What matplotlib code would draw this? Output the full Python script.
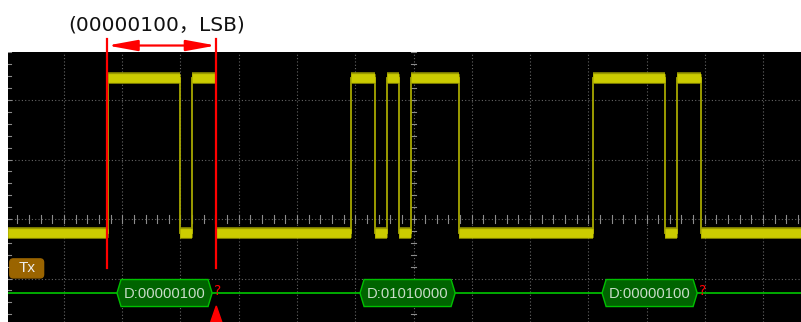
import matplotlib.pyplot as plt
from matplotlib.patches import Polygon, FancyBboxPatch

# scope screen in divisions (x: horizontal div, y: vertical div)
bit_width = 0.206
frame_starts = [-5.245, -1.073, 3.082]
frame_bits = [
    [1, 1, 1, 1, 1, 1, 0, 1, 1],
    [1, 1, 0, 1, 0, 1, 1, 1, 1],
    [1, 1, 1, 1, 1, 1, 0, 1, 1],
]
decode_labels = ["D:00000100", "D:01010000", "D:00000100"]
error_marks = ["?", "", "?"]
level_high = 2.378
level_low = -0.235
decode_row = -1.244
title_text = "(00000100，LSB)"
channel_label = "Tx"

x_min, x_max = -6.961, 6.652
y_min, y_max = -1.731, 2.807

fig = plt.figure(figsize=(8.01, 3.22), dpi=100)
fig.patch.set_facecolor("white")
ax = fig.add_axes([8 / 801, 0, 793 / 801, 270 / 322])
ax.set_facecolor("black")
ax.set_xlim(x_min, x_max)
ax.set_ylim(y_min, y_max)
ax.set_axis_off()
ax.add_patch(plt.Rectangle((x_min, y_min), x_max - x_min, y_max - y_min,
                           color="black", zorder=0))

# grid
grid_kw = dict(color="#666666", lw=0.8, ls=(0, (1, 2)), zorder=1)
for gx in range(-6, 7):
    ax.axvline(gx, **grid_kw)
for gy in range(-1, 3):
    ax.axhline(gy, **grid_kw)

# center axes with minor ticks, plus left border ticks
tick_c = "#8c8c8c"
k = -40
while k * 0.2 < x_max:
    t = k * 0.2
    if t > x_min:
        ax.plot([t, t], [-0.06, 0.06], color=tick_c, lw=0.8, zorder=2)
    k += 1
k = -10
while k * 0.2 < y_max:
    t = k * 0.2
    if t > y_min:
        ax.plot([-0.05, 0.05], [t, t], color=tick_c, lw=0.8, zorder=2)
        ax.plot([x_min, x_min + 0.05], [t, t], color=tick_c, lw=0.8, zorder=2)
    k += 1

# waveform: build step segments
segs = []
cur_t = x_min
for s, bits in zip(frame_starts, frame_bits):
    segs.append((cur_t, s, 0))
    for i, b in enumerate(bits):
        segs.append((s + i * bit_width, s + (i + 1) * bit_width, b))
    cur_t = s + len(bits) * bit_width
segs.append((cur_t, x_max, 0))

# merge equal levels
merged = []
for a, b, lv in segs:
    if merged and merged[-1][2] == lv:
        merged[-1] = (merged[-1][0], b, lv)
    else:
        merged.append((a, b, lv))

for i in range(1, len(merged)):
    tx = merged[i][0]
    ax.plot([tx, tx], [level_low, level_high], color="#a8a800", lw=1.3, zorder=3)

for a, b, lv in merged:
    y = level_high if lv else level_low
    ax.hlines(y, a, b, colors="#9a9a00", lw=8.3, capstyle="butt", zorder=4)
    ax.hlines(y, a, b, colors="#cccc00", lw=6.3, capstyle="butt", zorder=5)

# decode row
ax.axhline(decode_row, color="#00c800", lw=1.2, zorder=3)
hh = 0.227
pt = 0.07
for s, lab, mark in zip(frame_starts, decode_labels, error_marks):
    x0 = s + 0.75 * bit_width
    x1 = s + 8.68 * bit_width
    hexa = Polygon([(x0, decode_row), (x0 + pt, decode_row + hh),
                    (x1 - pt, decode_row + hh), (x1, decode_row),
                    (x1 - pt, decode_row - hh), (x0 + pt, decode_row - hh)],
                   closed=True, facecolor="#006400", edgecolor="#00c000",
                   lw=1.0, zorder=6)
    ax.add_patch(hexa)
    ax.text((x0 + x1) / 2, decode_row - 0.01, lab, color="#c8dcc8",
            fontsize=10.6, family="Liberation Sans", ha="center", va="center",
            zorder=7)
    if mark:
        ax.text(s + 9.12 * bit_width, decode_row + 0.04, mark, color="red",
                fontsize=10, ha="center", va="center", zorder=7)

# channel label
tx_box = FancyBboxPatch((-6.93, -0.99), 0.58, 0.32,
                        boxstyle="round,pad=0,rounding_size=0.06",
                        facecolor="#9a6400", edgecolor="#9a6400",
                        mutation_aspect=1.0, zorder=6)
ax.add_patch(tx_box)
ax.text(-6.64, -0.83, channel_label, color="#eeeeee", fontsize=11,
        family="Liberation Sans", ha="center", va="center", zorder=7)

# red measurement markers around frame 1
m0 = frame_starts[0] - 0.008
m1 = frame_starts[0] + 9 * bit_width
for mx in (m0, m1):
    ax.plot([mx, mx], [-0.824, 3.025], color="red", lw=1.6, zorder=8,
            clip_on=False)
ax.annotate("", xy=(m0, 2.916), xytext=(m1, 2.916),
            arrowprops=dict(arrowstyle="<|-|>,head_length=1.8,head_width=0.33",
                            color="red", lw=1.6, shrinkA=0, shrinkB=0,
                            mutation_scale=10),
            annotation_clip=False, zorder=8)
ax.fill([m1 + 0.005, m1 - 0.09, m1 + 0.1], [-1.462, y_min, y_min],
        color="red", zorder=8)

fig.text(156.5 / 801, 1 - 25 / 322, title_text, fontsize=14.5,
         family=["DejaVu Sans", "Noto Sans CJK SC"], ha="center", va="center",
         color="#111111")

fig.savefig("out.png", dpi=100, facecolor="white")
